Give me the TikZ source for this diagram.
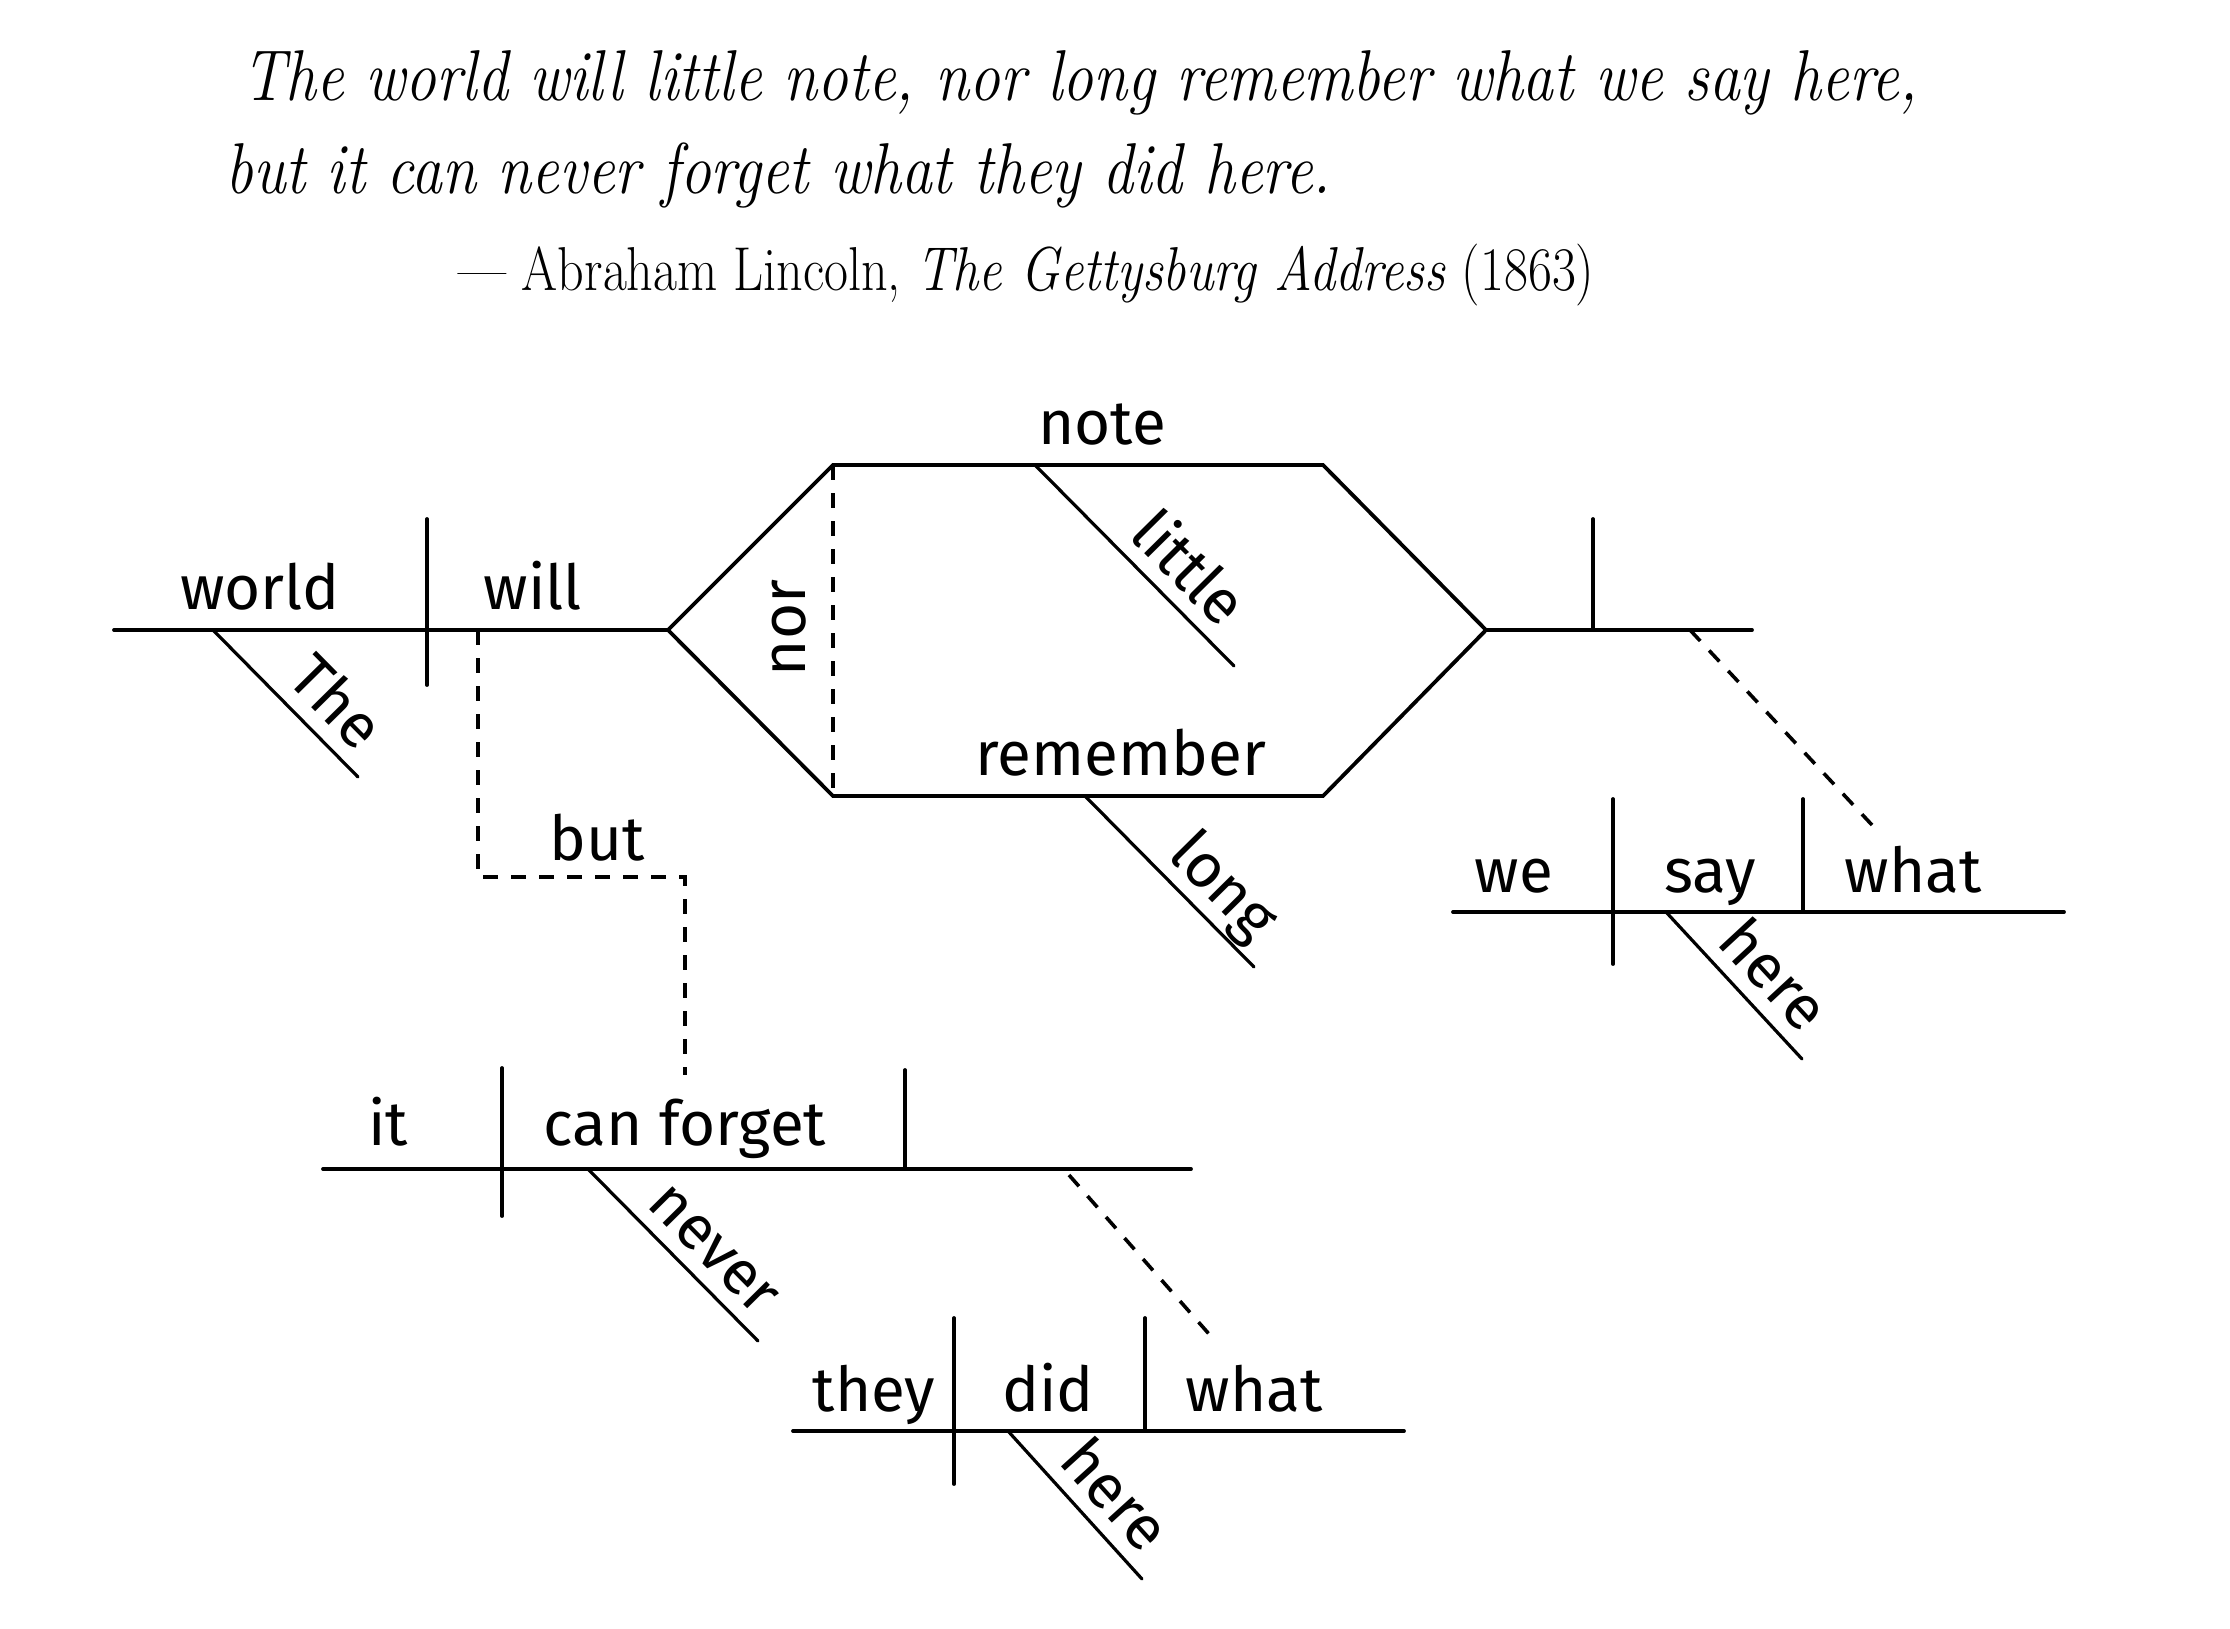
\documentclass[tikz,border=0pt]{standalone}
\usepackage{fontspec}
\usepackage{graphicx}
\newfontfamily\diagfont{Fira Sans}
\begin{document}
\begin{tikzpicture}[x=0.5pt,y=-0.5pt,
  ln/.style={line width=1.9pt, line cap=round, line join=miter},
  dl/.style={line width=1.6pt, line cap=round},
  dsh/.style={line width=1.8pt, dash pattern=on 7.5pt off 6.5pt},
  lbl/.style={font=\diagfont\fontsize{31}{36}\selectfont, inner sep=0pt, anchor=base},
  slbl/.style={font=\diagfont\fontsize{31}{36}\selectfont, sloped, pos=1, anchor=south east, inner xsep=8pt, inner ysep=7pt, text depth=0pt},
  qt/.style={inner sep=0pt, anchor=base west, font=\fontsize{36}{40}\selectfont\itshape},
  attrib/.style={inner sep=0pt, anchor=base west, font=\fontsize{31}{36}\selectfont},
]
\useasboundingbox (0,0) rectangle (2230,1628);

% quotation
\node[qt] (q1) at (242,100) {\scalebox{0.855}[1]{The world will little note, nor long remember what we say here,}};
\node[qt] (q2) at (225,193) {\scalebox{0.855}[1]{but it can never forget what they did here.}};
\node[attrib] (q3) at (458,290) {\scalebox{0.84}[1]{--- Abraham Lincoln, \textit{The Gettysburg Address} (1863)}};

% main clause coordinates
\coordinate (mL) at (114,630);
\coordinate (d1t) at (427,519);
\coordinate (d1b) at (427,685);
\coordinate (theA) at (213,630);
\coordinate (theB) at (358,777);
\coordinate (willD) at (478,630);
\coordinate (bend1) at (478,877);
\coordinate (bend2) at (685,877);
\coordinate (canTop) at (685,1075);
\coordinate (hL) at (668,630);
\coordinate (hTL) at (833,465);
\coordinate (hTR) at (1323,465);
\coordinate (hR) at (1486,630);
\coordinate (hBR) at (1323,796);
\coordinate (hBL) at (833,796);
\coordinate (litA) at (1035,465);
\coordinate (litB) at (1234,666);
\coordinate (lonA) at (1085,796);
\coordinate (lonB) at (1254,967);
\coordinate (rEnd) at (1752,630);
\coordinate (oDt) at (1593,519);
\coordinate (oDb) at (1593,630);
\coordinate (dA) at (1690,630);
\coordinate (dB) at (1872,825);

% we say what
\coordinate (wsL) at (1453,912);
\coordinate (wsR) at (2064,912);
\coordinate (ws1t) at (1613,799);
\coordinate (ws1b) at (1613,964);
\coordinate (ws2t) at (1803,799);
\coordinate (ws2b) at (1803,912);
\coordinate (h1A) at (1666,912);
\coordinate (h1B) at (1802,1059);

% it can forget
\coordinate (icL) at (323,1169);
\coordinate (icR) at (1191,1169);
\coordinate (ic1t) at (502,1068);
\coordinate (ic1b) at (502,1216);
\coordinate (ic2t) at (905,1070);
\coordinate (ic2b) at (905,1169);
\coordinate (nevA) at (588,1169);
\coordinate (nevB) at (758,1341);
\coordinate (d2A) at (1069,1175);
\coordinate (d2B) at (1209,1334);

% they did what
\coordinate (tdL) at (793,1431);
\coordinate (tdR) at (1404,1431);
\coordinate (td1t) at (954,1318);
\coordinate (td1b) at (954,1484);
\coordinate (td2t) at (1145,1318);
\coordinate (td2b) at (1145,1431);
\coordinate (h2A) at (1008,1431);
\coordinate (h2B) at (1142,1579);

% lines: main clause
\draw[ln] (mL) -- (hL);
\draw[ln] (d1t) -- (d1b);
\draw[dl] (theA) -- (theB) node[slbl] (The) {The};
\draw[dsh] (willD) -- (bend1) -- (bend2) -- (canTop);
\draw[ln] (hL) -- (hTL) -- (hTR) -- (hR) -- (hBR) -- (hBL) -- cycle;
\draw[dsh] (hTL) -- (hBL);
\draw[dl] (litA) -- (litB) node[slbl, inner xsep=17pt] (little) {little};
\draw[dl] (lonA) -- (lonB) node[slbl] (long) {long};
\draw[ln] (hR) -- (rEnd);
\draw[ln] (oDt) -- (oDb);
\draw[dsh] (dA) -- (dB);

% we say what
\draw[ln] (wsL) -- (wsR);
\draw[ln] (ws1t) -- (ws1b);
\draw[ln] (ws2t) -- (ws2b);
\draw[dl] (h1A) -- (h1B) node[slbl] (here1) {here};

% it can forget
\draw[ln] (icL) -- (icR);
\draw[ln] (ic1t) -- (ic1b);
\draw[ln] (ic2t) -- (ic2b);
\draw[dl] (nevA) -- (nevB) node[slbl] (never) {never};
\draw[dsh] (d2A) -- (d2B);

% they did what
\draw[ln] (tdL) -- (tdR);
\draw[ln] (td1t) -- (td1b);
\draw[ln] (td2t) -- (td2b);
\draw[dl] (h2A) -- (h2B) node[slbl] (here2) {here};

% horizontal labels
\node[lbl] (world) at (260,609) {world};
\node[lbl] (will) at (533,609) {will};
\node[lbl] (but) at (597,860) {but};
\node[lbl, rotate=90] (nor) at (805,628) {nor};
\node[lbl] (note) at (1102,444) {note};
\node[lbl] (remember) at (1121,775) {remember};
\node[lbl] (we) at (1514,892) {we};
\node[lbl] (say) at (1710,892) {say};
\node[lbl] (what1) at (1913,892) {what};
\node[lbl] (it) at (388,1145) {it};
\node[lbl] (canforget) at (685,1145) {can forget};
\node[lbl] (they) at (874,1411) {they};
\node[lbl] (did) at (1048,1411) {did};
\node[lbl] (what2) at (1254,1411) {what};
\end{tikzpicture}
\end{document}
